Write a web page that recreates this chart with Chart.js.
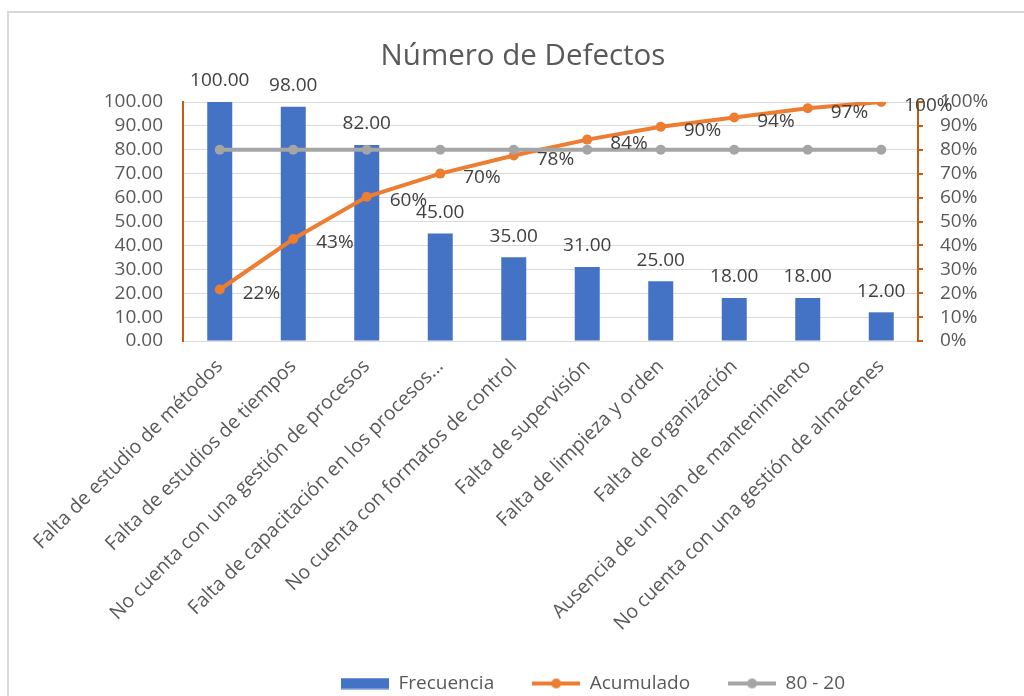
<!DOCTYPE html>
<html>
<head>
<meta charset="utf-8">
<script src="https://cdn.jsdelivr.net/npm/chart.js@4"></script>
<style>
  html, body { margin: 0; padding: 0; background: #fff; overflow: hidden; }
  #marco { position: absolute; left: 7px; top: 11px; width: 1100px; height: 800px; border: 2px solid #D9D9D9; box-sizing: border-box; }
  #pareto { position: absolute; left: 0; top: 0; }
</style>
</head>
<body>
<div id="marco"></div>
<canvas id="pareto" width="1024" height="696"></canvas>
<script>
// datos del diagrama de Pareto
var categorias = [
    "Falta de estudio de métodos",
    "Falta de estudios de tiempos",
    "No cuenta con una gestión de procesos",
    "Falta de capacitación en los procesos...",
    "No cuenta con formatos de control",
    "Falta de supervisión",
    "Falta de limpieza y orden",
    "Falta de organización",
    "Ausencia de un plan de mantenimiento",
    "No cuenta con una gestión de almacenes"
];
var frecuencia = [100, 98, 82, 45, 35, 31, 25, 18, 18, 12];
var acumulado = [21.55, 42.67, 60.34, 70.04, 77.59, 84.27, 89.66, 93.53, 97.41, 100];
var limite = [80, 80, 80, 80, 80, 80, 80, 80, 80, 80];

var azul = "#4472C4";
var naranja = "#ED7D31";
var gris = "#A5A5A5";
var ejeNaranja = "#C55A11";
var fuente = "'Open Sans', sans-serif";

document.addEventListener("DOMContentLoaded", function () {
    // muestras de la leyenda (barra y línea con marcador)
    function muestra(tipo, color) {
        var c = document.createElement("canvas");
        c.width = 48;
        c.height = 12;
        var g = c.getContext("2d");
        g.fillStyle = color;
        if (tipo === "bar") {
            g.fillRect(0, 0.5, 48, 11);
        } else {
            g.strokeStyle = color;
            g.lineWidth = 4;
            g.beginPath();
            g.moveTo(0, 6);
            g.lineTo(48, 6);
            g.stroke();
            g.beginPath();
            g.arc(24, 6, 5, 0, 2 * Math.PI);
            g.fill();
        }
        return c;
    }
    var iconos = [muestra("bar", azul), muestra("line", naranja), muestra("line", gris)];

    // etiquetas de datos
    var etiquetas = {
        id: "etiquetas",
        afterDatasetsDraw: function (chart) {
            var ctx = chart.ctx;
            ctx.save();
            ctx.font = "19px " + fuente;
            ctx.fillStyle = "#404040";
            ctx.textBaseline = "middle";
            ctx.textAlign = "center";
            chart.getDatasetMeta(0).data.forEach(function (bar, i) {
                ctx.fillText(frecuencia[i].toFixed(2), bar.x, bar.y - 21);
            });
            ctx.textAlign = "left";
            chart.getDatasetMeta(1).data.forEach(function (pt, i) {
                ctx.fillText(Math.round(acumulado[i]) + "%", pt.x + 23, pt.y + 4);
            });
            ctx.restore();
        }
    };

    // mover título y leyenda a su sitio
    var desplazar = {
        id: "desplazar",
        afterLayout: function (chart) {
            var lg = chart.legend;
            var h = lg.height;
            lg.left += 81;
            lg.right += 81;
            lg.top = 683 - 9 - 38;
            lg.bottom = lg.top + h;
            chart.titleBlock.left += 11;
            chart.titleBlock.right += 11;
        }
    };

    var ctx = document.getElementById("pareto").getContext("2d");

    new Chart(ctx, {
        type: "bar",
        data: {
            labels: categorias,
            datasets: [
                {
                    label: "Frecuencia",
                    data: frecuencia,
                    backgroundColor: azul,
                    yAxisID: "y",
                    barPercentage: 0.34,
                    categoryPercentage: 1,
                    order: 3
                },
                {
                    type: "line",
                    label: "Acumulado",
                    data: acumulado,
                    borderColor: naranja,
                    backgroundColor: naranja,
                    borderWidth: 4,
                    pointRadius: 5,
                    pointBorderWidth: 0,
                    pointBackgroundColor: naranja,
                    yAxisID: "y1",
                    order: 2
                },
                {
                    type: "line",
                    label: "80 - 20",
                    data: limite,
                    borderColor: gris,
                    backgroundColor: gris,
                    borderWidth: 4,
                    pointRadius: 5,
                    pointBorderWidth: 0,
                    pointBackgroundColor: gris,
                    yAxisID: "y1",
                    order: 1
                }
            ]
        },
        options: {
            responsive: false,
            animation: false,
            layout: { padding: { top: 0, left: 0, right: 0, bottom: -60 } },
            plugins: {
                tooltip: { enabled: false },
                title: {
                    display: true,
                    text: "Número de Defectos",
                    color: "#595959",
                    font: { family: fuente, size: 29.5, weight: "normal" },
                    padding: { top: 39.3, bottom: 27.3 }
                },
                legend: {
                    position: "bottom",
                    labels: {
                        usePointStyle: true,
                        pointStyleWidth: 48,
                        padding: 38,
                        color: "#595959",
                        font: { family: fuente, size: 19 },
                        generateLabels: function (chart) {
                            return chart.data.datasets.map(function (ds, i) {
                                return {
                                    text: ds.label,
                                    pointStyle: iconos[i],
                                    fontColor: "#595959",
                                    fillStyle: "transparent",
                                    strokeStyle: "transparent",
                                    lineWidth: 0,
                                    hidden: !chart.isDatasetVisible(i),
                                    datasetIndex: i
                                };
                            });
                        }
                    }
                }
            },
            scales: {
                x: {
                    grid: { display: false },
                    border: { color: "#D9D9D9" },
                    ticks: {
                        color: "#595959",
                        font: { family: fuente, size: 19.5 },
                        autoSkip: false,
                        maxRotation: 45,
                        minRotation: 45,
                        padding: 6
                    },
                    afterFit: function (scale) {
                        scale.height = 696 + 60 - 341 - scale.chart.legend.height;
                    }
                },
                y: {
                    position: "left",
                    min: 0,
                    max: 100,
                    grid: { color: "#D9D9D9", drawTicks: false },
                    border: { color: ejeNaranja, width: 2 },
                    ticks: {
                        stepSize: 10,
                        autoSkip: false,
                        padding: 20,
                        color: "#595959",
                        font: { family: fuente, size: 19 },
                        callback: function (v) { return v.toFixed(2); }
                    },
                    afterFit: function (scale) { scale.width = 183; }
                },
                y1: {
                    position: "right",
                    min: 0,
                    max: 100,
                    grid: { drawOnChartArea: false, color: ejeNaranja, lineWidth: 2, tickLength: 5 },
                    border: { color: ejeNaranja, width: 2 },
                    ticks: {
                        stepSize: 10,
                        autoSkip: false,
                        padding: 17,
                        color: "#595959",
                        font: { family: fuente, size: 19 },
                        callback: function (v) { return v + "%"; }
                    },
                    afterFit: function (scale) { scale.width = 106; }
                }
            }
        },
        plugins: [etiquetas, desplazar]
    });
});
</script>
</body>
</html>
